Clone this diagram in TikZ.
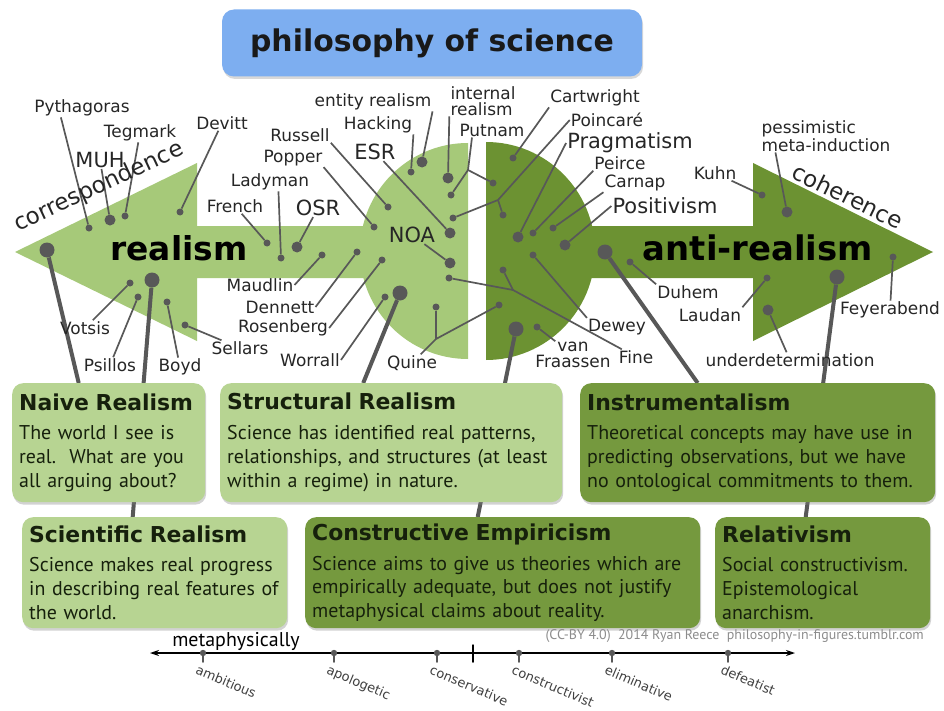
\documentclass[tikz,border=0pt]{standalone}
\usepackage{fontspec}
\setmainfont{DejaVu Sans}
\newfontfamily\boxfont{PT Sans}
\usetikzlibrary{arrows.meta,shadows}

\pgfdeclarelayer{back}
\pgfdeclarelayer{wires}
\pgfsetlayers{back,wires,main}

\definecolor{lightgreen}{RGB}{166,201,121}
\definecolor{darkgreen}{RGB}{108,146,50}
\definecolor{lightbox}{RGB}{183,212,146}
\definecolor{darkbox}{RGB}{117,153,62}
\definecolor{titleblue}{RGB}{125,174,240}
\definecolor{wiregray}{RGB}{88,88,88}
\definecolor{boxtext}{RGB}{22,32,12}

\newcommand{\boxtitle}[1]{{\normalfont\bfseries\fontsize{22}{26}\selectfont #1}\\[6bp]}

\tikzset{
  lbl/.style={inner sep=1bp, text=black!85, font=\fontsize{17}{18}\selectfont},
  biglbl/.style={lbl, font=\fontsize{21}{23}\selectfont},
  sdot/.style={circle, fill=wiregray, inner sep=0pt, minimum size=7bp},
  mdot/.style={sdot, minimum size=11bp},
  bdot/.style={sdot, minimum size=15bp},
  wire/.style={draw=wiregray, line width=1.7bp},
  bigwire/.style={draw=wiregray, line width=4bp},
  theorybox/.style={anchor=north west, rounded corners=11bp, inner xsep=7bp, align=left,
    text=boxtext, font=\boxfont\fontsize{20}{24}\selectfont,
    drop shadow={opacity=.35, shadow xshift=1bp, shadow yshift=-2.5bp}},
  titlebox/.style={fill=titleblue, rounded corners=12bp, minimum width=420bp, minimum height=67bp,
    font=\bfseries\fontsize{30}{34}\selectfont, text=black!90,
    drop shadow={opacity=.3, shadow xshift=1bp, shadow yshift=-2.5bp}},
  scalelbl/.style={inner sep=1bp, text=black!75, font=\fontsize{13}{15}\selectfont}
}

\begin{document}
\begin{tikzpicture}[x=1bp, y=-1bp, line cap=round, line join=round]
  \useasboundingbox (0,0) rectangle (944,711);

  % the two arrows
  \begin{pgfonlayer}{back}
    \fill[white] (0,0) rectangle (944,711);
    \fill[lightgreen] (15,252) -- (197,163) -- (197,226) -- (380,226) -- (380,278) -- (197,278) -- (197,341) -- cycle;
    \begin{scope}
      \clip (340,130) rectangle (468,370);
      \fill[lightgreen] (468,251) circle (108bp);
    \end{scope}
    \begin{scope}
      \clip (486,130) rectangle (620,370);
      \fill[darkgreen] (486,251) circle (109bp);
    \end{scope}
    \fill[darkgreen] (570,226) -- (753,226) -- (753,163) -- (933,252) -- (753,341) -- (753,278) -- (570,278) -- cycle;
  \end{pgfonlayer}

  \node[titlebox] (title) at (432,43) {philosophy of science};

  \node[font=\bfseries\fontsize{33}{36}\selectfont] (real) at (179,248) {realism};
  \node[font=\bfseries\fontsize{34}{36}\selectfont] (anti) at (758,248) {anti-realism};
  \node[lbl, font=\fontsize{23}{25}\selectfont, rotate=25] (corr) at (99,187) {correspondence};
  \node[lbl, font=\fontsize{23}{25}\selectfont, rotate=-26] (coh) at (848,196) {coherence};

  % names with one dot
  \foreach \nm/\txt/\lx/\ly/\dx/\dy/\sz/\s in {
      pyth/Pythagoras/82/108/89/228/sdot/pyth.-156,
      tegm/Tegmark/140/133/125/216/sdot/tegm,
      devi/Devitt/222/123/180/212/sdot/devi,
      fren/French/235/206/267/243/sdot/fren,
      lady/Ladyman/270/182/281/258/sdot/lady.-48,
      maud/Maudlin/260/285/322/255/sdot/maud.east,
      denn/Dennett/280/307/357/252/sdot/denn.east,
      rose/Rosenberg/283/328/382/260/sdot/rose.east,
      worr/Worrall/310/360/385/297/sdot/worr.east,
      sell/Sellars/240/348/185/325/sdot/sell,
      boyd/Boyd/180/367/167/302/sdot/boyd,
      psil/Psillos/110/365/138/297/sdot/psil,
      vots/Votsis/85/328/130/283/sdot/vots,
      russ/Russell/300/135/388/207/sdot/russ.south east,
      popp/Popper/293/158/374/227/sdot/popp.south east,
      hack/Hacking/378/125/411/172/sdot/hack.south east,
      enti/entity realism/373/102/422/162/mdot/enti.south east,
      cart/Cartwright/595/98/513/158/sdot/cart.south west,
      peir/Peirce/620/163/533/233/sdot/peir.south west,
      carn/Carnap/635/183/553/228/sdot/carn.south west,
      dewe/Dewey/617/327/533/255/sdot/dewe.north west,
      duhe/Duhem/688/292/630/262/sdot/duhe.north west,
      kuhn/Kuhn/715/173/762/195/sdot/kuhn,
      laud/Laudan/710/315/767/278/sdot/laud.north east,
      unde/underdetermination/790/360/768/310/mdot/unde,
      feye/Feyerabend/890/310/893/257/sdot/feye}
  {
    \node[\sz] (d\nm) at (\dx,\dy) {};
    \node[lbl] (\nm) at (\lx,\ly) {\txt};
    \begin{pgfonlayer}{wires}
      \draw[wire] (\s) -- (d\nm);
    \end{pgfonlayer}
  }
  \foreach \nm/\txt/\lx/\ly/\dx/\dy/\s in {
      muh/MUH/100/160/110/220/muh,
      osr/OSR/318/208/297/247/osr,
      esr/ESR/375/152/450/233/esr,
      noa/NOA/412/235/450/263/noa,
      prag/Pragmatism/630/143/518/237/prag.west,
      posi/Positivism/665/206/565/245/posi.west}
  {
    \node[mdot] (d\nm) at (\dx,\dy) {};
    \node[biglbl] (\nm) at (\lx,\ly) {\txt};
    \begin{pgfonlayer}{wires}
      \draw[wire] (\s) -- (d\nm);
    \end{pgfonlayer}
  }

  % two line names
  \node[lbl, align=left, font=\fontsize{17}{15.5}\selectfont] (intr) at (483,101) {internal\\realism};
  \node[mdot] (dintr) at (448,178) {};
  \node[lbl, align=left, font=\fontsize{17}{15.5}\selectfont] (pess) at (826,136) {pessimistic\\meta-induction};
  \node[mdot] (dpess) at (787,212) {};
  \node[lbl, align=center, font=\fontsize{17}{15.5}\selectfont] (vanf) at (573,355) {van\\Fraassen};
  \node[sdot] (dvanf) at (537,327) {};

  % names with two dots
  \node[lbl] (putn) at (492,130) {Putnam};
  \coordinate (jputn) at (468,170);
  \node[sdot] (dputn1) at (451,195) {};
  \node[sdot] (dputn2) at (493,183) {};
  \node[lbl] (poin) at (607,120) {Poincaré};
  \coordinate (jpoin) at (498,200);
  \node[sdot] (dpoin1) at (453,218) {};
  \node[sdot] (dpoin2) at (503,215) {};
  \node[lbl] (fine) at (636,357) {Fine};
  \coordinate (jfine) at (513,290);
  \node[sdot] (dfine1) at (449,278) {};
  \node[sdot] (dfine2) at (503,270) {};
  \node[lbl] (quin) at (412,363) {Quine};
  \coordinate (jquin) at (436,339);
  \node[sdot] (dquin1) at (436,307) {};
  \node[sdot] (dquin2) at (499,305) {};

  % dots that lead to the boxes
  \node[bdot] (dtip) at (47,250) {};
  \node[bdot] (dreal) at (152,280) {};
  \node[bdot] (dstruct) at (400,293) {};
  \node[bdot] (dcemp) at (516,329) {};
  \node[bdot] (danti) at (605,252) {};
  \node[bdot] (drel) at (837,277) {};

  % boxes
  \node[theorybox, fill=lightbox, minimum width=193bp, minimum height=119bp, text width=179bp] (naive) at (12,383)
    {\boxtitle{Naive Realism}The world I see is\\real.\ \ What are you\\all arguing about?};
  \node[theorybox, fill=lightbox, minimum width=342bp, minimum height=119bp, text width=328bp] (struct) at (220,383)
    {\boxtitle{Structural Realism}Science has identified real patterns,\\relationships, and structures (at least\\within a regime) in nature.};
  \node[theorybox, fill=darkbox, minimum width=355bp, minimum height=119bp, text width=341bp] (instr) at (580,383)
    {\boxtitle{Instrumentalism}Theoretical concepts may have use in\\predicting observations, but we have\\no ontological commitments to them.};
  \node[theorybox, fill=lightbox, minimum width=265bp, minimum height=111bp, text width=251bp] (sci) at (22,517)
    {\boxtitle{Scientific Realism}Science makes real progress\\in describing real features of\\the world.};
  \node[theorybox, fill=darkbox, minimum width=395bp, minimum height=111bp, text width=381bp] (cemp) at (305,517)
    {\boxtitle{Constructive Empiricism}Science aims to give us theories which are\\empirically adequate, but does not justify\\metaphysical claims about reality.};
  \node[theorybox, fill=darkbox, minimum width=215bp, minimum height=111bp, text width=201bp] (rel) at (715,517)
    {\boxtitle{Relativism}Social constructivism.\\Epistemological\\anarchism.};

  \begin{pgfonlayer}{wires}
    \draw[wire] (intr.south west) -- (dintr);
    \draw[wire] ([xshift=15bp]pess.south west) -- (dpess);
    \draw[wire] (vanf) -- (dvanf);
    \draw[wire] ([xshift=-20bp]putn.south) -- (jputn) -- (dputn1);
    \draw[wire] (jputn) -- (dputn2);
    \draw[wire] (poin.west) -- (jpoin) -- (dpoin1);
    \draw[wire] (jpoin) -- (dpoin2);
    \draw[wire] (fine) -- (jfine) -- (dfine1);
    \draw[wire] (jfine) -- (dfine2);
    \draw[wire] (quin) -- (jquin) -- (dquin2);
    \draw[wire] (dquin1) -- (jquin);

    \draw[bigwire] (dtip) -- ([xshift=-30bp]naive.north);
    \draw[bigwire] (dreal) -- ([xshift=-22bp]sci.north);
    \draw[bigwire] (dstruct) -- ([xshift=-28bp]struct.north);
    \draw[bigwire] (dcemp) -- ([xshift=-25bp]cemp.north);
    \draw[bigwire] (danti) -- ([xshift=-60bp]instr.north);
    \draw[bigwire] (drel) -- ([xshift=-17bp]rel.north);
  \end{pgfonlayer}

  \node[inner sep=1bp, anchor=east, text=black!45, font=\boxfont\fontsize{14}{16}\selectfont] (credit) at (925,636)
    {(CC-BY 4.0)\ \ 2014 Ryan Reece\ \ philosophy-in-figures.tumblr.com};

  % scale at the bottom
  \draw[line width=1.3bp, {Stealth[length=9bp,width=6bp]}-{Stealth[length=9bp,width=6bp]}] (150,653) -- (795,653);
  \draw[line width=1.5bp] (473,645) -- (473,662);
  \node[inner sep=1bp, font=\boxfont\fontsize{20}{22}\selectfont] (meta) at (236,641) {metaphysically};
  \foreach \x/\w in {203/ambitious, 334/apologetic, 437/conservative, 519/constructivist, 612/eliminative, 728/defeatist}
  {
    \draw[wiregray, line width=1.5bp] (\x,653) -- (\x,662);
    \fill[wiregray] (\x,653) circle (3.2bp);
    \node[scalelbl, anchor=north west, rotate=-23] (\w) at (\x-5,663) {\w};
  }
\end{tikzpicture}
\end{document}
